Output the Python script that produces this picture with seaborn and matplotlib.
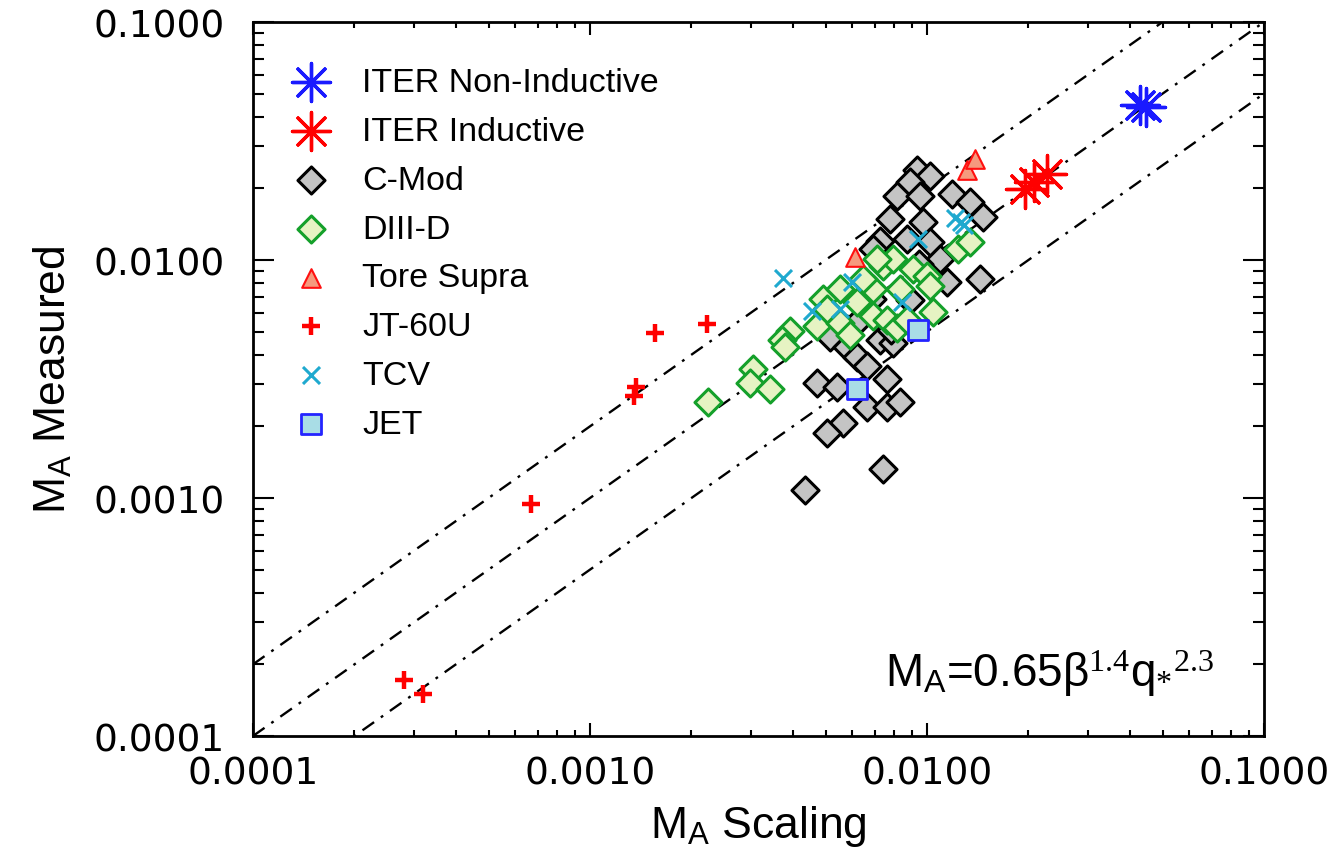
import matplotlib
matplotlib.use("Agg")
import matplotlib.pyplot as plt
from matplotlib.ticker import FixedLocator, LogLocator, NullFormatter
import seaborn as sns

# ITER predictions
iter_ni_x = [0.0430, 0.0448]
iter_ni_y = [0.0447, 0.0440]
iter_ind_x = [0.0196, 0.0208, 0.0227]
iter_ind_y = [0.0198, 0.0212, 0.0229]

# C-Mod
cmod_x = [0.00933, 0.0102, 0.00891, 0.00815, 0.00953, 0.0119, 0.0134, 0.0147, 0.00776, 0.00973,
          0.00873, 0.00726, 0.00692, 0.0102, 0.0109, 0.0115, 0.0144, 0.00515, 0.00580, 0.00620,
          0.00664, 0.00726, 0.00792, 0.00760, 0.00472, 0.00541, 0.00664, 0.00760, 0.00832, 0.00564,
          0.00505, 0.00740, 0.00435, 0.00685, 0.0089, 0.0078, 0.0095, 0.0063]
cmod_y = [0.0240, 0.0225, 0.0212, 0.0185, 0.0185, 0.0189, 0.0175, 0.0152, 0.0148, 0.0145,
          0.0122, 0.0120, 0.0111, 0.0119, 0.0101, 0.00805, 0.00829, 0.00477, 0.00433, 0.00393,
          0.00357, 0.00463, 0.00450, 0.00315, 0.00305, 0.00294, 0.00242, 0.00242, 0.00252, 0.00207,
          0.00188, 0.00132, 0.00108, 0.00683, 0.0068, 0.0051, 0.0096, 0.0056]

# DIII-D
d3d_x = [0.00224, 0.00305, 0.00299, 0.00342, 0.00392, 0.00372, 0.00379, 0.00472, 0.00491, 0.00552,
         0.00552, 0.00592, 0.00620, 0.00692, 0.00692, 0.00740, 0.00792, 0.00832, 0.00760, 0.00815,
         0.00873, 0.00908, 0.0100, 0.0102, 0.0104, 0.0124, 0.0134, 0.00646, 0.00711, 0.00505]
d3d_y = [0.00252, 0.00347, 0.00305, 0.00286, 0.00501, 0.00463, 0.00429, 0.00526, 0.00683, 0.00752,
         0.00546, 0.00486, 0.00663, 0.00579, 0.00752, 0.0094, 0.0101, 0.00752, 0.00562, 0.00520,
         0.00562, 0.00913, 0.00853, 0.00774, 0.00602, 0.0111, 0.0119, 0.00829, 0.0101, 0.0062]

# Tore Supra
ts_x = [0.0061, 0.0131, 0.0139]
ts_y = [0.0103, 0.0240, 0.0265]

# JT-60U
jt_x = [0.000281, 0.000319, 0.000668, 0.00137, 0.00135, 0.00156, 0.00222]
jt_y = [0.000172, 0.000150, 0.000946, 0.00294, 0.00269, 0.00495, 0.00536]

# TCV
tcv_x = [0.00374, 0.00456, 0.00552, 0.00599, 0.00843, 0.0094, 0.0121, 0.0126, 0.0129]
tcv_y = [0.00837, 0.00608, 0.00620, 0.00805, 0.00663, 0.0122, 0.0150, 0.0145, 0.0140]

# JET
jet_x = [0.0094, 0.0062]
jet_y = [0.0051, 0.00286]

# reference lines y = f * x
line_x = [1e-4, 1e-1]
line_factors = [2.0, 1.0, 0.5]

tick_vals = [1e-4, 1e-3, 1e-2, 1e-1]
tick_labels = ["0.0001", "0.0010", "0.0100", "0.1000"]

legend_order = ["ITER Non-Inductive", "ITER Inductive", "C-Mod", "DIII-D",
                "Tore Supra", "JT-60U", "TCV", "JET"]

sns.set_theme(style="ticks")
plt.rcParams["font.family"] = ["Liberation Sans", "DejaVu Sans"]
plt.rcParams["mathtext.fontset"] = "custom"
plt.rcParams["mathtext.rm"] = "Liberation Serif"
plt.rcParams["mathtext.it"] = "Liberation Serif:italic"
for key in ["text.color", "axes.labelcolor", "xtick.color", "ytick.color", "axes.edgecolor"]:
    plt.rcParams[key] = "black"

fig, ax = plt.subplots(figsize=(13.37, 8.62), dpi=100)
fig.subplots_adjust(left=0.1892, right=0.9454, bottom=0.145, top=0.9733)
ax.set_xscale("log")
ax.set_yscale("log")

for f in line_factors:
    ax.plot(line_x, [f * v for v in line_x], color="black", lw=1.7,
            dashes=(6, 3.5, 1.2, 3.5), zorder=1)

sns.scatterplot(x=cmod_x, y=cmod_y, marker="D", s=190, color="#c4c4c4",
                edgecolor="black", linewidth=2.2, label="C-Mod", ax=ax, zorder=2)
sns.scatterplot(x=d3d_x, y=d3d_y, marker="D", s=190, color="#e6f3c3",
                edgecolor="#14a02a", linewidth=2.2, label="DIII-D", ax=ax, zorder=3)
sns.scatterplot(x=ts_x, y=ts_y, marker="^", s=180, color="#f59a7e",
                edgecolor="#ff1010", linewidth=1.5, label="Tore Supra", ax=ax, zorder=4)
sns.scatterplot(x=jt_x, y=jt_y, marker="+", s=150, color="#ff0000",
                linewidth=3.2, label="JT-60U", ax=ax, zorder=4)
sns.scatterplot(x=tcv_x, y=tcv_y, marker="x", s=150, color="#1fa9cf",
                linewidth=2.2, label="TCV", ax=ax, zorder=5)
sns.scatterplot(x=jet_x, y=jet_y, marker="s", s=200, color="#a9dde6",
                edgecolor="#2424ff", linewidth=2.0, label="JET", ax=ax, zorder=5)
sns.scatterplot(x=iter_ind_x, y=iter_ind_y, marker=(8, 2, 0), s=750, color="#ff0000",
                linewidth=2.4, label="ITER Inductive", ax=ax, zorder=6)
sns.scatterplot(x=iter_ni_x, y=iter_ni_y, marker=(8, 2, 0), s=750, color="#1a1aff",
                linewidth=2.4, label="ITER Non-Inductive", ax=ax, zorder=6)

ax.set_xlim(1e-4, 1e-1)
ax.set_ylim(1e-4, 1e-1)

for axis in (ax.xaxis, ax.yaxis):
    axis.set_major_locator(FixedLocator(tick_vals))
    axis.set_minor_locator(LogLocator(base=10, subs=range(2, 10)))
    axis.set_minor_formatter(NullFormatter())
ax.set_xticklabels(tick_labels, family="DejaVu Sans", fontsize=27)
ax.set_yticklabels(tick_labels, family="DejaVu Sans", fontsize=27)

ax.tick_params(which="both", direction="in", top=True, right=True, width=1.5, color="black")
ax.tick_params(axis="x", which="major", length=9.5, pad=14)
ax.tick_params(axis="x", which="minor", length=4.5)
ax.tick_params(axis="y", which="major", length=15, pad=20)
ax.tick_params(axis="y", which="minor", length=8)
for sp in ax.spines.values():
    sp.set_linewidth(2.0)
    sp.set_color("black")

ax.set_xlabel(r"M$_\mathregular{A}$ Scaling", fontsize=32, labelpad=8)
ax.set_ylabel(r"M$_\mathregular{A}$ Measured", fontsize=32, labelpad=14)

ax.text(0.951, 0.07, r"M$_\mathregular{A}$=0.65β$^{\mathrm{1.4}}$q$_{*}$$^{\mathrm{2.3}}$",
        transform=ax.transAxes, ha="right", va="baseline", fontsize=33)

handles, labels = ax.get_legend_handles_labels()
lookup = dict(zip(labels, handles))
ax.legend([lookup[k] for k in legend_order], legend_order, loc="upper left",
          bbox_to_anchor=(0.041, 0.937), frameon=False, fontsize=24.5,
          handlelength=1.0, handletextpad=1.0, labelspacing=0.525,
          borderpad=0, borderaxespad=0, scatterpoints=1)

fig.savefig("out.png", dpi=100)
